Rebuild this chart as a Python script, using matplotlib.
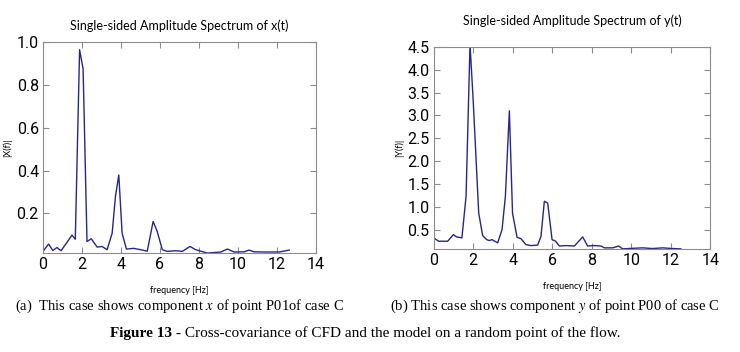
import matplotlib
matplotlib.use('Agg')
import matplotlib.pyplot as plt

# left spectrum: component x, point P01
fx = [0.0, 0.09, 0.29, 0.51, 0.72, 0.93, 1.2, 1.49, 1.66, 1.88, 2.06, 2.26, 2.48,
      2.78, 3.03, 3.29, 3.55, 3.72, 3.89, 4.06, 4.28, 4.66, 5.0, 5.35, 5.65, 5.86,
      6.12, 6.37, 6.8, 7.15, 7.54, 7.83, 8.09, 8.43, 9.12, 9.46, 9.8, 10.32, 10.57,
      10.83, 11.5, 12.1, 12.63]
ax_amp = [0.02, 0.033, 0.056, 0.026, 0.04, 0.025, 0.06, 0.098, 0.079, 0.965, 0.876,
          0.068, 0.081, 0.042, 0.045, 0.03, 0.107, 0.28, 0.379, 0.107, 0.033, 0.036,
          0.03, 0.023, 0.162, 0.115, 0.03, 0.022, 0.025, 0.022, 0.045, 0.03, 0.023,
          0.014, 0.019, 0.033, 0.019, 0.02, 0.028, 0.02, 0.019, 0.019, 0.028]

# right spectrum: component y, point P00
fy = [0.0, 0.25, 0.71, 1.0, 1.16, 1.43, 1.64, 1.84, 2.0, 2.28, 2.48, 2.68, 2.82,
      2.95, 3.24, 3.46, 3.63, 3.83, 3.99, 4.22, 4.42, 4.67, 4.93, 5.26, 5.43, 5.6,
      5.77, 5.99, 6.16, 6.36, 6.7, 7.12, 7.54, 7.79, 8.13, 8.47, 8.64, 9.06, 9.36,
      9.56, 10.07, 10.58, 11.08, 11.59, 12.09, 12.51]
ay_amp = [0.32, 0.245, 0.245, 0.39, 0.34, 0.318, 1.23, 4.55, 3.33, 0.86, 0.37, 0.28,
          0.26, 0.28, 0.21, 0.5, 1.23, 3.1, 0.86, 0.33, 0.3, 0.17, 0.15, 0.16, 0.35,
          1.12, 1.08, 0.28, 0.25, 0.14, 0.15, 0.14, 0.34, 0.14, 0.15, 0.14, 0.1, 0.1,
          0.14, 0.078, 0.09, 0.1, 0.085, 0.1, 0.085, 0.078]

xticks = [0, 2, 4, 6, 8, 10, 12, 14]
yticks_x = [0.2, 0.4, 0.6, 0.8, 1.0]
yticks_y = [0.5, 1.0, 1.5, 2.0, 2.5, 3.0, 3.5, 4.0, 4.5]

plt.rcParams['mathtext.fontset'] = 'stix'

tick_font = dict(family=['Roboto', 'DejaVu Sans'], fontsize=11.5)
sans = ['Lato', 'DejaVu Sans']
serif = ['Liberation Serif', 'DejaVu Serif']
line_color = '#26268a'
box_color = '#8c8c8c'

fig = plt.figure(figsize=(7.4, 3.52), dpi=100)


def spectrum_panel(rect, f, amp, yticks, ylim, title, ylabel, title_pad, ylab_pad):
    ax = fig.add_axes(rect)
    ax.plot(f, amp, color=line_color, lw=1.0)
    ax.set_xlim(0, 14)
    ax.set_ylim(*ylim)
    ax.set_xticks(xticks)
    ax.set_yticks(yticks)
    ax.set_xticklabels([str(t) for t in xticks], **tick_font)
    ax.set_yticklabels([f"{t:.1f}" for t in yticks], **tick_font)
    ax.tick_params(direction='in', length=4, width=0.8, color=box_color,
                   top=True, right=True, pad=3)
    for s in ax.spines.values():
        s.set_color(box_color)
        s.set_linewidth(0.8)
    ax.set_title(title, family=sans, fontsize=9, pad=title_pad)
    ax.set_xlabel('frequency [Hz]', family=sans, fontsize=6.5, labelpad=10)
    ax.set_ylabel(ylabel, family=sans, fontsize=6.5, labelpad=ylab_pad)
    return ax


spectrum_panel([0.058, 0.281, 0.369, 0.599], fx, ax_amp, yticks_x, (0.014, 1.0),
               'Single-sided Amplitude Spectrum of x(t)', '|X(f)|', 9, 3)
spectrum_panel([0.586, 0.293, 0.374, 0.574], fy, ay_amp, yticks_y, (0.078, 4.5),
               'Single-sided Amplitude Spectrum of y(t)', '|Y(f)|', 16, 2)

# captions
fig.text(0.02, 1 - 306 / 352,
         '(a)  This case shows component $x$ of point P01of case C',
         family=serif, fontsize=10.5, va='center', ha='left')
fig.text(0.527, 1 - 306 / 352,
         '(b) This case shows component $y$ of point P00 of case C',
         family=serif, fontsize=10.5, va='center', ha='left')
t1 = fig.text(0.149, 1 - 337 / 352, 'Figure 13', family=serif, fontsize=11,
              weight='bold', va='baseline', ha='left')
fig.axes[0].annotate(' - Cross-covariance of CFD and the model on a random point of the flow.',
                     xy=(1, 0), xycoords=t1, va='bottom', ha='left',
                     family=serif, fontsize=11, annotation_clip=False)
plt.savefig('out.png', dpi=100)
